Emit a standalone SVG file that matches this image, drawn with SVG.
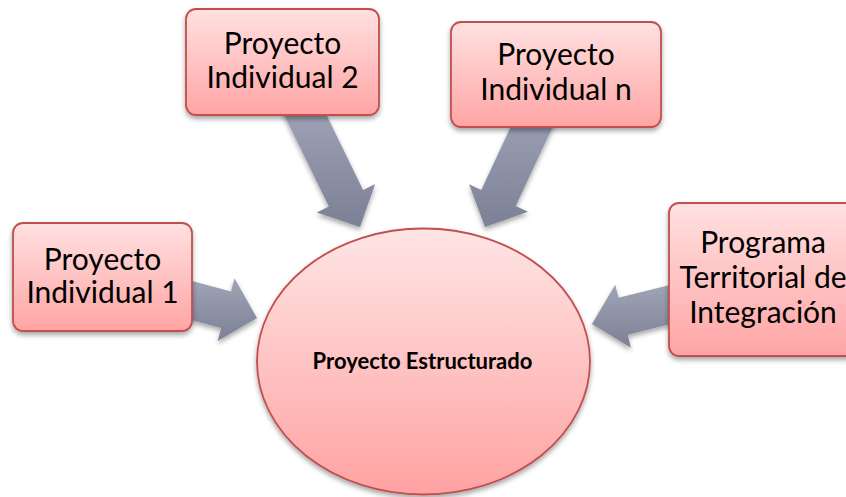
<svg xmlns="http://www.w3.org/2000/svg" width="846" height="497" viewBox="0 0 846 497">
<defs>
<linearGradient id="boxFill" x1="0" y1="0" x2="0" y2="1">
<stop offset="0" stop-color="#FFE1E1"/>
<stop offset="1" stop-color="#FFA4A4"/>
</linearGradient>
<linearGradient id="ellFill" x1="0" y1="0" x2="0" y2="1">
<stop offset="0" stop-color="#FFE5E5"/>
<stop offset="1" stop-color="#FFA2A2"/>
</linearGradient>
<linearGradient id="arrFill" x1="0" y1="0" x2="0" y2="1">
<stop offset="0" stop-color="#A2A7BA"/>
<stop offset="1" stop-color="#7B8094"/>
</linearGradient>
<filter id="shadow" x="-20%" y="-20%" width="140%" height="150%">
<feDropShadow dx="0" dy="3" stdDeviation="2.5" flood-color="#000" flood-opacity="0.35"/>
</filter>
</defs>
<style>
.box{fill:url(#boxFill);stroke:#C0504D;stroke-width:1.8;filter:url(#shadow)}
.ell{fill:url(#ellFill);stroke:#C0504D;stroke-width:1.8;filter:url(#shadow)}
.arr{fill:url(#arrFill);stroke:none;filter:url(#shadow)}
.lbl{font-family:Lato,"Open Sans","Liberation Sans",sans-serif;font-size:30px;fill:#000;text-anchor:middle}
.center{font-family:Lato,"Open Sans","Liberation Sans",sans-serif;font-size:22px;font-weight:bold;fill:#000;text-anchor:middle}
</style>
<rect width="846" height="497" fill="#FFFFFF"/>
<g id="connectors">
<polygon class="arr" points="315.7,92.8 363.1,189.9 375.2,184.0 360,227 316.8,212.5 328.9,206.6 281.5,109.5"/>
<polygon class="arr" points="561.4,108.2 515.7,206.0 528.0,211.7 485,227 469.1,184.3 481.3,190.0 526.9,92.1"/>
<polygon class="arr" points="165.3,273.8 231.0,291.4 234.5,278.3 257,318 217.7,341.1 221.2,328.1 155.5,310.5"/>
<polygon class="arr" points="703.3,315.8 627.7,334.7 630.9,347.8 592,324 615.2,284.7 618.5,297.8 694.1,279.0"/>
</g>
<g id="node-individual-1">
<rect class="box" x="13" y="223" width="179" height="108" rx="10"/>
<text class="lbl" x="102.5" y="270">Proyecto</text>
<text class="lbl" x="102.5" y="303">Individual 1</text>
</g>
<g id="node-individual-2">
<rect class="box" x="186" y="9" width="193" height="106" rx="10"/>
<text class="lbl" x="282.5" y="54">Proyecto</text>
<text class="lbl" x="282.5" y="88">Individual 2</text>
</g>
<g id="node-individual-n">
<rect class="box" x="451" y="22" width="210" height="105" rx="10"/>
<text class="lbl" x="556" y="65">Proyecto</text>
<text class="lbl" x="556" y="100">Individual n</text>
</g>
<g id="node-programa">
<rect class="box" x="669" y="203" width="188" height="153" rx="10"/>
<text class="lbl" x="763" y="253">Programa</text>
<text class="lbl" x="763" y="288">Territorial de</text>
<text class="lbl" x="763" y="323">Integración</text>
</g>
<g id="node-estructurado">
<ellipse class="ell" cx="423.5" cy="361.5" rx="166.5" ry="133"/>
<text class="center" x="422.5" y="369">Proyecto Estructurado</text>
</g>
</svg>
